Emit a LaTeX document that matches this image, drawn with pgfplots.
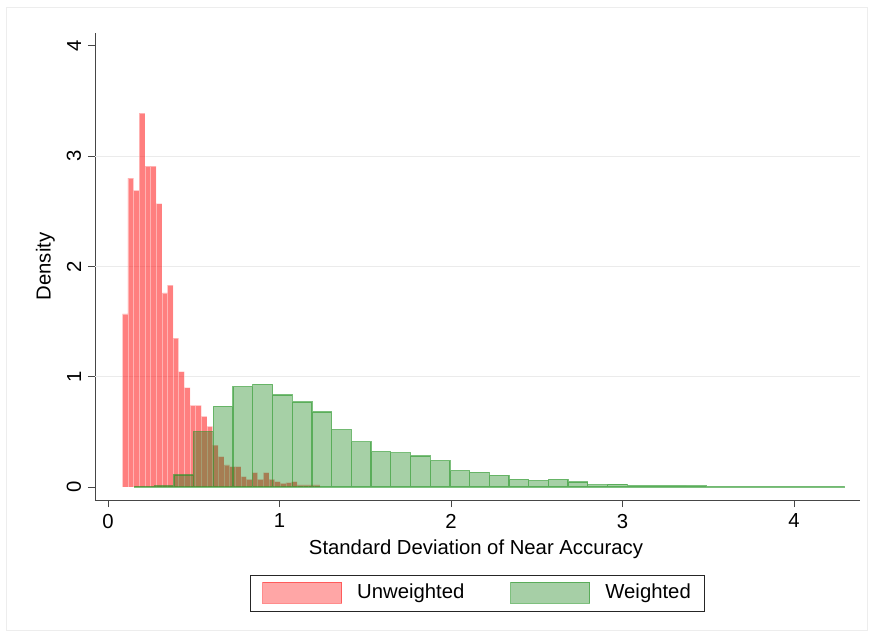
\documentclass[border=0pt]{standalone}
\usepackage{fontspec}
\setmainfont{Liberation Sans}
\usepackage{pgfplots}
\pgfplotsset{compat=1.18}
\definecolor{redbar}{RGB}{255,0,0}
\definecolor{greenbar}{RGB}{0,120,0}
\definecolor{greenline}{RGB}{40,150,40}
\definecolor{axgray}{RGB}{70,70,70}
\begin{document}%
\fontsize{20.3}{24}\selectfont%
\begin{tikzpicture}
\path[use as bounding box] (0pt,0pt) rectangle (870pt,637pt);
\draw[black!7, line width=1pt] (6pt,6pt) rectangle (867pt,629pt);
\begin{axis}[
  at={(95pt,137pt)}, anchor=south west,
  scale only axis, width=765pt, height=467pt,
  xmin=-0.0758, xmax=4.385, ymin=-0.118, ymax=4.116,
  axis lines*=left,
  axis line style={axgray, line width=0.9pt},
  tick align=outside, major tick length=7pt,
  tick style={axgray, line width=0.9pt},
  xtick={0,1,2,3,4}, ytick={0,1,2,3,4},
  /pgf/number format/assume math mode=true,
  ticklabel style={font=\fontsize{20.3}{24}\selectfont},
  yticklabel style={rotate=90, anchor=south},
  extra y ticks={1,2,3}, extra y tick labels={},
  extra y tick style={ymajorgrids=true, major tick length=0pt},
  grid style={black!8, line width=0.9pt},
  xlabel={Standard Deviation of Near Accuracy},
  xlabel style={at={(axis description cs:0.498,-0.105)}, anchor=center, font=\fontsize{20.3}{24}\selectfont},
  ylabel={Density},
  ylabel style={at={(axis description cs:-0.065,0.5)}, anchor=center, font=\fontsize{20.3}{24}\selectfont},
  legend columns=2,
  legend style={at={(0.5,-0.199)}, anchor=center, draw=black!85, line width=0.8pt,
    font=\fontsize{20.3}{24}\selectfont, inner xsep=12pt, inner ysep=7pt,
    /tikz/every odd column/.append style={column sep=13pt},
    /tikz/every even column/.append style={column sep=44pt}},
  legend cell align=left,
]
\addplot[ybar interval, fill=redbar, fill opacity=0.5, draw=white, draw opacity=0.4, line width=0.5pt,
  legend image code/.code={\draw[fill=redbar, fill opacity=0.35, draw=redbar, draw opacity=0.45, line width=1pt] (0pt,-10.5pt) rectangle (79pt,10.5pt);}]
coordinates {
(0.0834,1.57) (0.1163,2.80) (0.1492,2.69) (0.1821,3.39) (0.2150,2.91) (0.2479,2.91)
(0.2808,2.57) (0.3137,1.76) (0.3466,1.83) (0.3795,1.35) (0.4124,1.045) (0.4453,0.90)
(0.4782,0.74) (0.5111,0.74) (0.5440,0.64) (0.5769,0.55) (0.6098,0.38) (0.6427,0.275)
(0.6756,0.20) (0.7085,0.185) (0.7414,0.185) (0.7743,0.094) (0.8072,0.07) (0.8401,0.13)
(0.8730,0.07) (0.9059,0.13) (0.9388,0.07) (0.9717,0.048) (1.0046,0.033) (1.0375,0.04)
(1.0704,0.048) (1.1033,0.018) (1.1362,0.018) (1.1691,0.018) (1.2020,0.018) (1.2349,0)
};
\addlegendentry{Unweighted}
\addplot[ybar interval, fill=greenbar, fill opacity=0.35, draw=greenline, draw opacity=0.6, line width=1.3pt,
  legend image code/.code={\draw[fill=greenbar, fill opacity=0.35, draw=greenline, draw opacity=0.6, line width=1pt] (0pt,-10.5pt) rectangle (79pt,10.5pt);}]
coordinates {
(0.1550,0.005) (0.2699,0.01) (0.3848,0.11) (0.4997,0.50) (0.6146,0.73) (0.7295,0.91)
(0.8444,0.93) (0.9593,0.834) (1.0742,0.77) (1.1891,0.68) (1.3040,0.52) (1.4189,0.41)
(1.5338,0.32) (1.6487,0.31) (1.7636,0.28) (1.8785,0.24) (1.9934,0.148) (2.1083,0.133)
(2.2232,0.106) (2.3381,0.07) (2.4530,0.057) (2.5679,0.07) (2.6828,0.045) (2.7977,0.02)
(2.9126,0.025) (3.0275,0.01) (3.1424,0.01) (3.2573,0.01) (3.3722,0.008) (3.4871,0.004)
(3.6020,0.004) (3.7169,0.003) (3.8318,0.003) (3.9467,0.003) (4.0616,0.003) (4.1765,0.003)
(4.2914,0)
};
\addlegendentry{Weighted}
\end{axis}
\end{tikzpicture}%
\end{document}
